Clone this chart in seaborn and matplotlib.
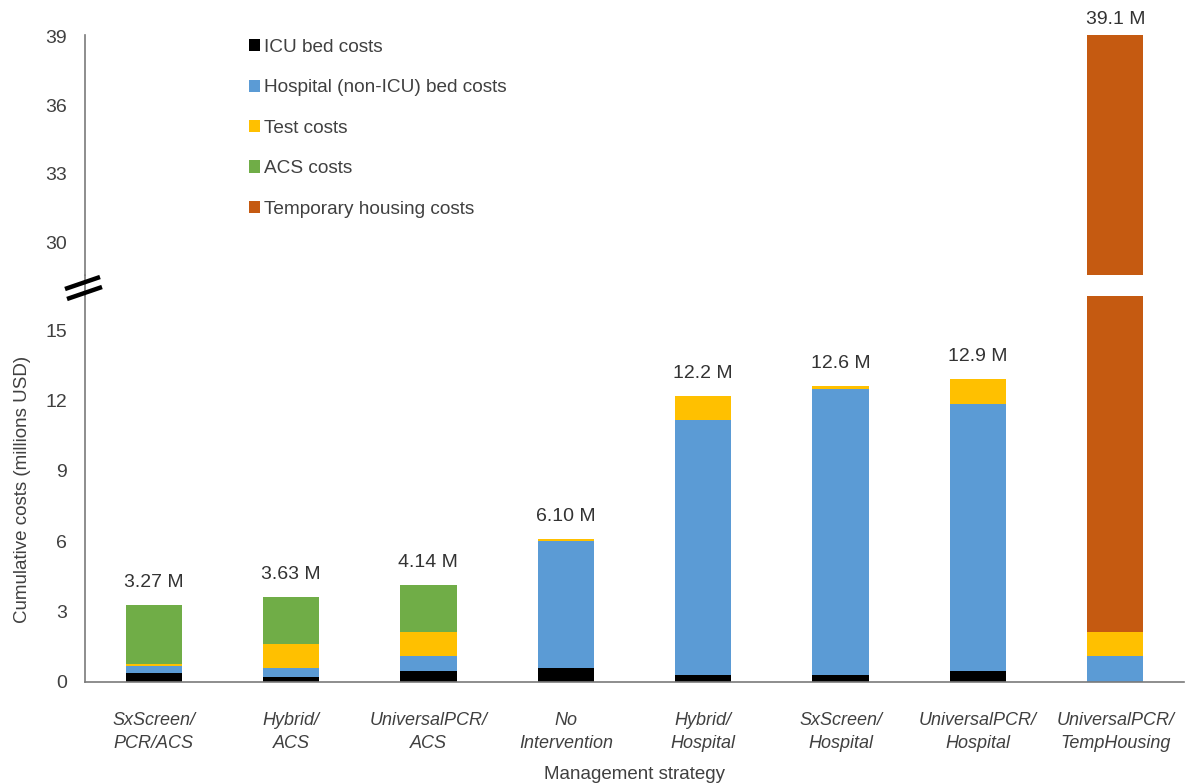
import matplotlib
matplotlib.use("Agg")
import matplotlib.pyplot as plt
from matplotlib.patches import Patch
from matplotlib.lines import Line2D
import numpy as np
import seaborn as sns

# ---- data (millions USD) ----
strategies = [
    "SxScreen/\nPCR/ACS", "Hybrid/\nACS", "UniversalPCR/\nACS", "No\nIntervention",
    "Hybrid/\nHospital", "SxScreen/\nHospital", "UniversalPCR/\nHospital",
    "UniversalPCR/\nTempHousing",
]
icu_bed = [0.37, 0.21, 0.49, 0.61, 0.28, 0.28, 0.47, 0.00]
hospital_bed = [0.33, 0.40, 0.63, 5.39, 10.87, 12.22, 11.36, 1.11]
test_costs = [0.08, 1.00, 1.02, 0.10, 1.05, 0.10, 1.07, 1.02]
acs_costs = [2.49, 2.02, 2.00, 0.00, 0.00, 0.00, 0.00, 0.00]
housing_costs = [0.00, 0.00, 0.00, 0.00, 0.00, 0.00, 0.00, 36.97]

component_names = ["ICU bed costs", "Hospital (non-ICU) bed costs", "Test costs",
                   "ACS costs", "Temporary housing costs"]
component_colors = ["#000000", "#5B9BD5", "#FFC000", "#70AD47", "#C55A11"]

bottom_ticks = [0, 3, 6, 9, 12, 15]
top_ticks = [30, 33, 36, 39]

# ---- style ----
sns.set_theme(style="white")
plt.rcParams["font.family"] = ["Liberation Sans", "DejaVu Sans"]
TEXT = "#404040"
SPINE = "#7a7a7a"

W, H = 1187, 783
fig = plt.figure(figsize=(W / 100, H / 100), dpi=100)


def fx(px):
    return px / W


def fy(py):
    return 1 - py / H


ax_top = fig.add_axes([fx(85), fy(275), fx(1184) - fx(85), fy(35) - fy(275)])
ax_bot = fig.add_axes([fx(85), fy(682), fx(1184) - fx(85), fy(296) - fy(682)])

components = [icu_bed, hospital_bed, test_costs, acs_costs, housing_costs]
cumulative = np.cumsum(np.array(components), axis=0)
totals = cumulative[-1]

# stacked bars: draw the running totals from the tallest layer down
for ax in (ax_top, ax_bot):
    for layer in range(len(components) - 1, -1, -1):
        sns.barplot(x=strategies, y=cumulative[layer], color=component_colors[layer],
                    saturation=1, width=0.41, linewidth=0, ax=ax)
    ax.set_xlim(-0.5, len(strategies) - 0.5)
    ax.set_xlabel("")
    ax.set_ylabel("")
    for side in ("top", "right"):
        ax.spines[side].set_visible(False)
    ax.spines["left"].set_color(SPINE)
    ax.spines["left"].set_linewidth(1.2)
    ax.tick_params(axis="y", direction="in", length=4, width=1, color=SPINE,
                   labelsize=14, labelcolor=TEXT, pad=13)

ax_bot.set_ylim(0, 16.45)
ax_bot.set_yticks(bottom_ticks)
ax_top.set_ylim(28.6, 39.05)
ax_top.set_yticks(top_ticks)

ax_top.spines["bottom"].set_visible(False)
ax_top.tick_params(axis="x", bottom=False, labelbottom=False)
ax_bot.spines["bottom"].set_color(SPINE)
ax_bot.spines["bottom"].set_linewidth(1.2)
ax_bot.set_xticks(range(len(strategies)))
ax_bot.set_xticklabels(strategies, fontstyle="italic", fontsize=13, color=TEXT,
                       linespacing=1.45)
ax_bot.tick_params(axis="x", length=0, pad=21.5)

ax_bot.set_ylabel("Cumulative costs (millions USD)", fontsize=13.5, color=TEXT, labelpad=10)
ax_bot.set_xlabel("Management strategy", fontsize=13.5, color=TEXT, labelpad=10)


def fmt(v):
    return f"{v:.2f} M" if v < 10 else f"{v:.1f} M"


for i, total in enumerate(totals):
    if total <= ax_bot.get_ylim()[1]:
        ax_bot.annotate(fmt(total), xy=(i, total), xytext=(0, 10), textcoords="offset points",
                        ha="center", va="bottom", fontsize=14, color="#333333")
    else:
        ax_top.annotate(fmt(total), xy=(i, total), xytext=(0, 4), textcoords="offset points",
                        ha="center", va="bottom", fontsize=14, color="#333333",
                        annotation_clip=False)

# axis continuation through the break and the break marks
fig.add_artist(Line2D([fx(85), fx(85)], [fy(275), fy(296)], color=SPINE, lw=1.2))
for (x0, y0, x1, y1) in [(65, 289, 100, 277), (67, 299, 102, 287)]:
    fig.add_artist(Line2D([fx(x0), fx(x1)], [fy(y0), fy(y1)], color="black", lw=3.2,
                          solid_capstyle="butt"))

handles = [Patch(facecolor=c, edgecolor="none") for c in component_colors]
fig.legend(handles, component_names, loc="upper left", bbox_to_anchor=(fx(249), fy(39)),
           frameon=False, fontsize=13.7, labelspacing=1.23, handlelength=0.6,
           handleheight=0.6, handletextpad=0.2, borderpad=0, borderaxespad=0,
           labelcolor=TEXT)

fig.savefig("out.png", dpi=100)
